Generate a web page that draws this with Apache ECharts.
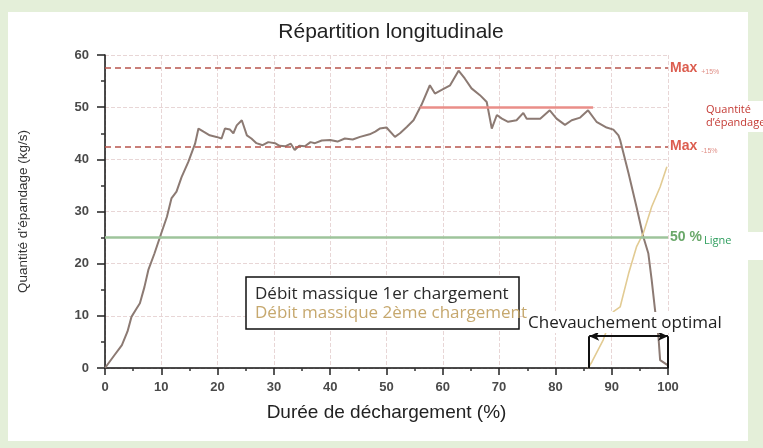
<!DOCTYPE html>
<html><head><meta charset="utf-8">
<script src="https://cdn.jsdelivr.net/npm/echarts/dist/echarts.min.js"></script>
<style>html,body{margin:0;padding:0;background:#e4efd9}#c{width:763px;height:448px}</style>
</head><body><div id="c"></div>
<script>
// ---- data ----
const load1X = [0,1.5,3,4,4.7,5.5,6.2,7,7.7,8.8,9.8,11,11.8,12.7,13.6,14.8,16,16.6,17.5,18.6,19.8,20.7,21.3,22.2,22.8,23.4,24.3,25.2,26,26.9,28,29,30.2,31,32,33,33.7,34.5,35.5,36.5,37.3,38.5,40,41.3,42.6,44,45.3,47,48,48.8,50,51.5,52.4,53.6,54.8,56.2,57.7,58.6,59.8,61.3,62.8,63.9,65.1,66.6,67.8,68.7,69.6,70.5,71.6,73.1,74.3,74.9,77.3,79,80.2,81.7,82.9,84.4,85.8,87.3,89.1,90.3,91.2,91.5,93,94.4,95.6,96.5,97.1,97.7,98.3,98.6,100];
const load1Y = [0,2.2,4.4,7,9.8,11.2,12.4,15.5,18.8,22,25.2,29,32.5,33.8,36.6,39.5,43,45.9,45.3,44.6,44.3,44,45.9,45.7,45,46.5,47.5,44.6,44,43.1,42.7,43.3,43.1,42.6,42.5,43,41.8,42.6,42.5,43.3,43.1,43.6,43.7,43.4,44,43.8,44.3,44.8,45.3,45.9,46.1,44.3,45,46.2,47.5,50.4,54.2,52.6,53.3,54.2,57,55.5,53.6,52.3,51,45.9,48.5,47.8,47.2,47.5,48.9,47.8,47.8,49.4,47.8,46.6,47.5,48,49.4,47.2,46.1,45.7,44.6,43.7,37.3,30.9,25.2,22,16.9,11.1,6,1.5,0.5];
const load2X = [85.8,86.5,88.5,90.3,91.5,93,94.4,95.6,97.1,98.6,99.8];
const load2Y = [0,1.2,5.4,10.8,11.7,18.1,23.2,25.8,30.9,34.7,38.6];
const seriesNames = ['Débit massique 1er chargement','Débit massique 2ème chargement'];
const refMaxPlus = 57.5, refMax = 50, refMaxMinus = 42.5, refHalf = 25;
const maxSegmentX = [56, 86.7];
const overlapX = [86, 100];
const overlapTop = 6.1;

const pairs = (xs, ys) => xs.map((x, i) => [x, ys[i]]);
const chart = echarts.init(document.getElementById('c'));
const gridColor = '#e8d6d6';
const narrow = '"Liberation Sans Narrow", "Liberation Sans", sans-serif';
const maxRich = {
  m: {fontSize: 14, fontWeight: 'bold', color: '#dc5e50', fontFamily: 'Liberation Sans'},
  s: {fontSize: 7, color: '#e09088', padding: [9, 0, 0, 4], fontFamily: 'Liberation Sans'}
};
const option = {
  animation: false,
  backgroundColor: '#e4efd9',
  grid: {left: 105, right: 95, top: 55, bottom: 80},
  xAxis: {
    type: 'value', min: 0, max: 100, interval: 10,
    name: 'Durée de déchargement (%)', nameLocation: 'middle', nameGap: 35,
    nameTextStyle: {fontFamily: narrow, fontSize: 19, color: '#222'},
    axisLine: {lineStyle: {color: '#111', width: 1.5}},
    axisTick: {length: 7, lineStyle: {color: '#222', width: 1.5}},
    minorTick: {show: true, splitNumber: 2, length: 3, lineStyle: {color: '#333', width: 1.5}},
    axisLabel: {color: '#4a4a4a', fontWeight: 'bold', fontSize: 13, margin: 13, fontFamily: 'Liberation Sans'},
    splitLine: {show: true, lineStyle: {color: gridColor, type: 'dashed', width: 1}}
  },
  yAxis: {
    type: 'value', min: 0, max: 60, interval: 10,
    name: 'Quantité d\u2019épandage (kg/s)', nameLocation: 'middle', nameGap: 75, nameRotate: 90,
    nameTextStyle: {fontFamily: 'Liberation Sans', fontSize: 13.5, color: '#333'},
    axisLine: {show: true, lineStyle: {color: '#111', width: 1.5}},
    axisTick: {show: true, length: 8, lineStyle: {color: '#222', width: 1.5}},
    minorTick: {show: true, splitNumber: 2, length: 4, lineStyle: {color: '#333', width: 1.5}},
    axisLabel: {color: '#4a4a4a', fontWeight: 'bold', fontSize: 13, margin: 16, fontFamily: 'Liberation Sans'},
    splitLine: {show: true, lineStyle: {color: gridColor, type: 'dashed', width: 1}}
  },
  series: [
    {
      name: 'refs', type: 'line', data: [], silent: true,
      markLine: {
        silent: true, symbol: ['none', 'none'], animation: false,
        data: [
          [{coord: [0, refMaxPlus], lineStyle: {color: '#b8554e', type: [6, 4], width: 1.5},
            label: {show: true, position: 'end', distance: 2, formatter: '{m|Max}{s|+15%}', rich: maxRich}},
           {coord: [100, refMaxPlus]}],
          [{coord: [0, refMaxMinus], lineStyle: {color: '#b8554e', type: [6, 4], width: 1.5},
            label: {show: true, position: 'end', distance: 2, formatter: '{m|Max}{s|-15%}', rich: maxRich}},
           {coord: [100, refMaxMinus]}],
          [{coord: [maxSegmentX[0], refMax], lineStyle: {color: '#ea8e88', type: 'solid', width: 2.5}, label: {show: false}},
           {coord: [maxSegmentX[1], refMax]}],
          [{coord: [maxSegmentX[1], refMax], lineStyle: {opacity: 0},
            label: {show: true, position: 'end', distance: 2, formatter: '{m|Max}', rich: maxRich}},
           {coord: [100, refMax]}],
          [{coord: [0, refHalf], lineStyle: {color: '#9ec49b', type: 'solid', width: 2.5},
            label: {show: true, position: 'end', distance: 2, formatter: '50 %', color: '#6aa86a', fontWeight: 'bold', fontSize: 14, fontFamily: 'Liberation Sans'}},
           {coord: [100, refHalf]}]
        ]
      }
    },
    {
      name: seriesNames[0], type: 'line', data: pairs(load1X, load1Y), showSymbol: false,
      lineStyle: {color: '#8c7a73', width: 2}, z: 3
    },
    {
      name: seriesNames[1], type: 'line', data: pairs(load2X, load2Y), showSymbol: false,
      lineStyle: {color: '#e2cb93', width: 1.6}, z: 3,
      markLine: {
        silent: true, symbol: ['none', 'none'], animation: false,
        lineStyle: {color: '#111', width: 2, type: 'solid'}, label: {show: false},
        data: [
          [{coord: [overlapX[0], 0]}, {coord: [overlapX[0], overlapTop]}],
          [{coord: [overlapX[1], 0]}, {coord: [overlapX[1], overlapTop]}],
          [{coord: [overlapX[0], overlapTop], symbol: 'arrow', symbolSize: [7, 10]},
           {coord: [overlapX[1], overlapTop], symbol: 'arrow', symbolSize: [7, 10]}]
        ]
      }
    }
  ],
  graphic: [
    {type: 'rect', z: -10, shape: {x: 8, y: 12, width: 740, height: 429}, style: {fill: '#ffffff'}},
    {type: 'text', x: 391, y: 32, style: {text: 'Répartition longitudinale', fontFamily: narrow, fontSize: 21, fill: '#222', align: 'center', verticalAlign: 'middle', textAlign: 'center', textVerticalAlign: 'middle'}},
    // legend box
    {type: 'rect', z: 20, shape: {x: 246, y: 277, width: 273, height: 52}, style: {fill: '#fff', stroke: '#111', lineWidth: 1.5}},
    {type: 'text', z: 21, x: 255, y: 294, style: {text: seriesNames[0], fontFamily: 'Open Sans', fontSize: 17, fill: '#2a2a2a', verticalAlign: 'middle', textVerticalAlign: 'middle'}},
    {type: 'text', z: 21, x: 255, y: 313, style: {text: seriesNames[1], fontFamily: 'Open Sans', fontSize: 17, fill: '#c6a86e', verticalAlign: 'middle', textVerticalAlign: 'middle'}},
    // overlap label
    {type: 'rect', z: 20, shape: {x: 524, y: 312, width: 216, height: 21}, style: {fill: '#fff'}},
    {type: 'text', z: 21, x: 528, y: 323, style: {text: 'Chevauchement optimal', fontFamily: 'Open Sans', fontSize: 17, fill: '#222', verticalAlign: 'middle', textVerticalAlign: 'middle'}},
    // right annotations
    {type: 'rect', z: 20, shape: {x: 698, y: 101, width: 65, height: 31}, style: {fill: '#fff'}},
    {type: 'text', z: 21, x: 706, y: 110, style: {text: 'Quantité', fontFamily: 'Open Sans', fontSize: 11, fill: '#c43a34', verticalAlign: 'middle', textVerticalAlign: 'middle'}},
    {type: 'text', z: 21, x: 706, y: 123, style: {text: 'd\u2019épandage', fontFamily: 'Open Sans', fontSize: 11, fill: '#c43a34', verticalAlign: 'middle', textVerticalAlign: 'middle'}},
    {type: 'rect', z: 20, shape: {x: 703, y: 232, width: 60, height: 28}, style: {fill: '#fff'}},
    {type: 'text', z: 21, x: 704, y: 241, style: {text: 'Ligne', fontFamily: 'Open Sans', fontSize: 11, fill: '#2e9e5e', verticalAlign: 'middle', textVerticalAlign: 'middle'}}
  ]
};
chart.setOption(option);
</script></body></html>
